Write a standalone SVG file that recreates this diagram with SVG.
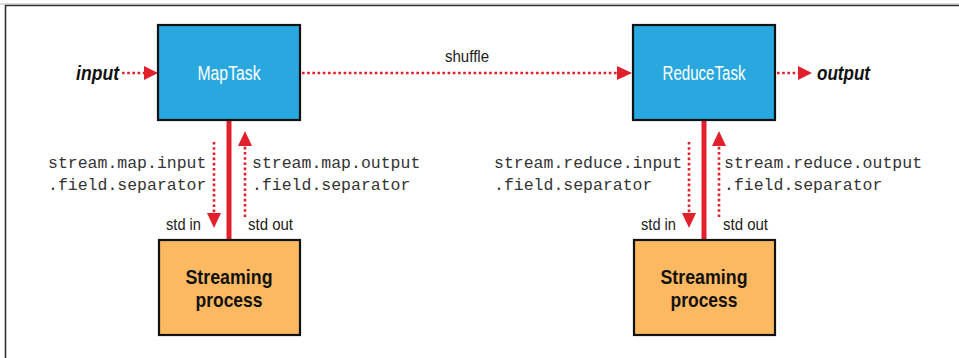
<svg xmlns="http://www.w3.org/2000/svg" width="959" height="358" viewBox="0 0 959 358">
<defs>
<style>
.task{fill:#29a8e0;stroke:#111;stroke-width:2.2}
.proc{fill:#fdb961;stroke:#111;stroke-width:2.2}
.tname{font-family:"Liberation Sans",Arial,sans-serif;font-size:20px;fill:#fff;text-anchor:middle}
.pname{font-family:"Liberation Sans",Arial,sans-serif;font-size:21px;font-weight:bold;fill:#111;text-anchor:middle}
.mono{font-family:"Liberation Mono","DejaVu Sans Mono",monospace;font-size:16.5px;fill:#333}
.lbl{font-family:"Liberation Sans",Arial,sans-serif;font-size:17px;fill:#222}
.io{font-family:"Liberation Sans",Arial,sans-serif;font-size:20px;font-weight:bold;font-style:italic;fill:#111}
.dot{stroke:#e0202a;stroke-width:2.6;stroke-dasharray:2.6 2.6;fill:none}
.solid{stroke:#e0202a;stroke-width:5;fill:none}
.head{fill:#e0202a}
</style>
</defs>
<g id="frame">
<line x1="0" y1="4" x2="959" y2="4" stroke="#bbb" stroke-width="1"/>
<line x1="5" y1="5.5" x2="959" y2="5.5" stroke="#333" stroke-width="1.6"/>
<line x1="5.5" y1="5" x2="5.5" y2="358" stroke="#333" stroke-width="1.6"/>
</g>
<g id="connectors">
<line class="dot" x1="122" y1="73" x2="145" y2="73"/>
<polygon class="head" points="144,66 158,73 144,80"/>
<line class="dot" x1="302" y1="73" x2="619" y2="73"/>
<polygon class="head" points="617,66 632,73 617,80"/>
<line class="dot" x1="777" y1="73" x2="800" y2="73"/>
<polygon class="head" points="798,66 812,73 798,80"/>
<line class="solid" x1="229" y1="121" x2="229" y2="239"/>
<line class="solid" x1="704" y1="121" x2="704" y2="239"/>
<line class="dot" x1="214" y1="142" x2="214" y2="214"/>
<polygon class="head" points="207,213 221,213 214,228"/>
<line class="dot" x1="245" y1="217" x2="245" y2="145"/>
<polygon class="head" points="238,146 252,146 245,131"/>
<line class="dot" x1="689" y1="142" x2="689" y2="214"/>
<polygon class="head" points="682,213 696,213 689,228"/>
<line class="dot" x1="719" y1="217" x2="719" y2="145"/>
<polygon class="head" points="712,146 726,146 719,131"/>
<text class="lbl" x="467" y="62" text-anchor="middle" textLength="44" lengthAdjust="spacingAndGlyphs">shuffle</text>
<text class="io" x="76" y="80" textLength="43" lengthAdjust="spacingAndGlyphs">input</text>
<text class="io" x="817" y="80" textLength="53" lengthAdjust="spacingAndGlyphs">output</text>
<text class="mono" x="48" y="168">stream.map.input</text>
<text class="mono" x="48" y="190">.field.separator</text>
<text class="mono" x="252" y="168">stream.map.output</text>
<text class="mono" x="252" y="190">.field.separator</text>
<text class="mono" x="494" y="168">stream.reduce.input</text>
<text class="mono" x="494" y="190">.field.separator</text>
<text class="mono" x="724" y="168">stream.reduce.output</text>
<text class="mono" x="724" y="190">.field.separator</text>
<text class="lbl" x="166" y="230" textLength="35" lengthAdjust="spacingAndGlyphs">std in</text>
<text class="lbl" x="248" y="230" textLength="45" lengthAdjust="spacingAndGlyphs">std out</text>
<text class="lbl" x="641" y="230" textLength="35" lengthAdjust="spacingAndGlyphs">std in</text>
<text class="lbl" x="723" y="230" textLength="45" lengthAdjust="spacingAndGlyphs">std out</text>
</g>
<g id="maptask">
<rect class="task" x="158" y="25" width="142" height="95"/>
<text class="tname" x="229" y="80" textLength="63" lengthAdjust="spacingAndGlyphs">MapTask</text>
</g>
<g id="reducetask">
<rect class="task" x="633" y="25" width="142" height="95"/>
<text class="tname" x="704" y="80" textLength="83" lengthAdjust="spacingAndGlyphs">ReduceTask</text>
</g>
<g id="mapstreaming">
<rect class="proc" x="159" y="240" width="141" height="95"/>
<text class="pname" x="229" y="284" textLength="87" lengthAdjust="spacingAndGlyphs">Streaming</text>
<text class="pname" x="229" y="307" textLength="67" lengthAdjust="spacingAndGlyphs">process</text>
</g>
<g id="reducestreaming">
<rect class="proc" x="634" y="240" width="141" height="95"/>
<text class="pname" x="704" y="284" textLength="87" lengthAdjust="spacingAndGlyphs">Streaming</text>
<text class="pname" x="704" y="307" textLength="67" lengthAdjust="spacingAndGlyphs">process</text>
</g>
</svg>
